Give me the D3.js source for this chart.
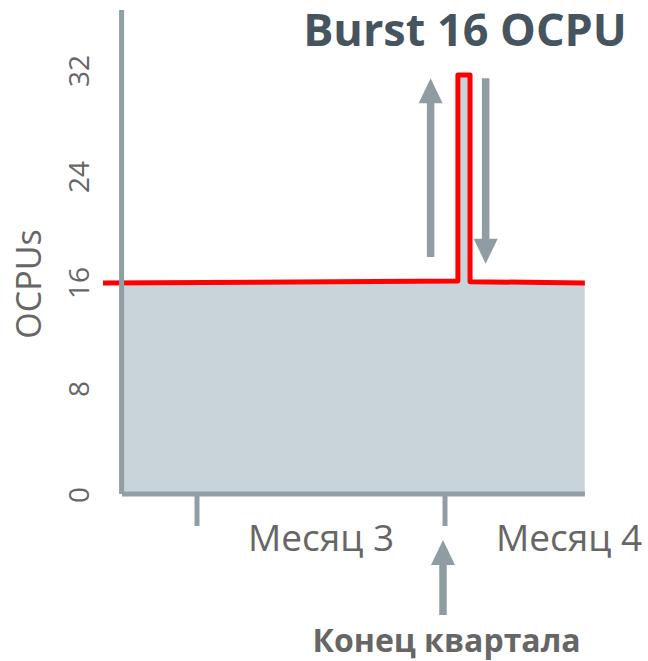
<!doctype html>
<html>

<head>
	<meta charset="utf-8">
	<title>Burst 16 OCPU</title>
	<script src="https://cdn.jsdelivr.net/npm/d3@7"></script>
	<style>
		body { margin: 0; background: #fff; }
		text { font-family: "Open Sans", "Noto Sans", sans-serif; }
	</style>
</head>

<body>

	<script>

		// data: time in months, OCPU usage
		var usageMonth = [1.623, 3.054, 3.054, 3.103, 3.103, 3.566];
		var usageOCPU = [16, 16.15, 31.7, 31.7, 16.1, 16];

		var monthTicks = [2, 3];
		var monthLabels = ["Месяц 3", "Месяц 4"];
		var monthLabelPos = [2.5, 3.5];
		var yTicks = [0, 8, 16, 24, 32];
		var quarterEnd = 3;

		var width = 648;
		var height = 661;
		var axisColor = "#919ea5";
		var arrowColor = "#8f9ca2";

		var x = d3.scaleLinear()
			.domain([2, 3])
			.range([196.5, 444.5]);

		var y = d3.scaleLinear()
			.domain([0, 32])
			.range([495, 71]);

		var data = usageMonth.map(function (m, i) { return { m: m, v: usageOCPU[i] }; });

		var svg = d3.select("body")
			.append("svg")
			.attr("width", width)
			.attr("height", height);

		svg.append("clipPath")
			.attr("id", "plot")
			.append("rect")
			.attr("x", x(1.7))
			.attr("y", 0)
			.attr("width", x(3.566) - x(1.7))
			.attr("height", y(0));

		// filled area under usage
		var area = d3.area()
			.x(function (d) { return x(d.m); })
			.y0(y(0))
			.y1(function (d) { return y(d.v); });

		svg.append("path")
			.datum(data)
			.attr("clip-path", "url(#plot)")
			.attr("fill", "#c8d3da")
			.attr("d", area);

		var line = d3.line()
			.x(function (d) { return x(d.m); })
			.y(function (d) { return y(d.v); });

		svg.append("path")
			.datum(data)
			.attr("fill", "none")
			.attr("stroke", "#ff0000")
			.attr("stroke-width", 5)
			.attr("stroke-linejoin", "round")
			.attr("d", line);

		// y axis line
		svg.append("line")
			.attr("x1", x(1.7) - 0.5)
			.attr("x2", x(1.7) - 0.5)
			.attr("y1", y(36.6))
			.attr("y2", y(0) - 1)
			.attr("stroke", axisColor)
			.attr("stroke-width", 5);

		// x axis
		var xAxis = d3.axisBottom(x)
			.tickValues(monthTicks)
			.tickSize(32)
			.tickFormat("");

		var gx = svg.append("g")
			.attr("transform", "translate(0," + (y(0) - 1) + ")")
			.call(xAxis);
		gx.select(".domain").remove();
		gx.selectAll(".tick line")
			.attr("stroke", axisColor)
			.attr("stroke-width", 5);

		svg.append("line")
			.attr("x1", x(1.7))
			.attr("x2", x(3.566))
			.attr("y1", y(0) - 1)
			.attr("y2", y(0) - 1)
			.attr("stroke", axisColor)
			.attr("stroke-width", 5);

		svg.selectAll(".month")
			.data(monthLabels)
			.enter()
			.append("text")
			.attr("class", "month")
			.attr("x", function (d, i) { return x(monthLabelPos[i]) + 0.5; })
			.attr("y", 551)
			.attr("text-anchor", "middle")
			.attr("fill", "#666666")
			.style("font-size", "37px")
			.text(function (d) { return d; });

		// y tick labels, rotated
		svg.selectAll(".ytick")
			.data(yTicks)
			.enter()
			.append("text")
			.attr("class", "ytick")
			.attr("transform", function (d) { return "translate(89," + y(d) + ") rotate(-90)"; })
			.attr("text-anchor", "middle")
			.attr("fill", "#666666")
			.style("font-size", "28px")
			.text(function (d) { return d; });

		svg.append("text")
			.attr("transform", "translate(41,284) rotate(-90)")
			.attr("text-anchor", "middle")
			.attr("fill", "#666666")
			.style("font-size", "34px")
			.text("OCPUs");

		// arrows
		function arrow(cx, yTail, yTip) {
			var dir = yTip < yTail ? 1 : -1;
			var hw = 12, sw = 3.75, hl = 25;
			var yb = yTip + dir * hl;
			return "M" + (cx - sw) + "," + yTail +
				"L" + (cx - sw) + "," + yb +
				"L" + (cx - hw) + "," + yb +
				"L" + cx + "," + yTip +
				"L" + (cx + hw) + "," + yb +
				"L" + (cx + sw) + "," + yb +
				"L" + (cx + sw) + "," + yTail + "Z";
		}

		svg.append("path")
			.attr("fill", arrowColor)
			.attr("d", arrow(x(2.944), y(17.96), y(31.45)));

		svg.append("path")
			.attr("fill", arrowColor)
			.attr("d", arrow(x(3.166), y(31.45), y(17.45)));

		svg.append("path")
			.attr("fill", arrowColor)
			.attr("d", arrow(x(quarterEnd) - 1.5, y(-9.06), y(-3.4)));

		svg.append("text")
			.attr("x", 465)
			.attr("y", 46)
			.attr("text-anchor", "middle")
			.attr("fill", "#45545e")
			.style("font-size", "45px")
			.style("font-weight", "bold")
			.text("Burst 16 OCPU");

		svg.append("text")
			.attr("x", 446.5)
			.attr("y", 652)
			.attr("text-anchor", "middle")
			.attr("fill", "#666666")
			.style("font-size", "32px")
			.style("font-weight", "bold")
			.text("Конец квартала");

	</script>
</body>

</html>
